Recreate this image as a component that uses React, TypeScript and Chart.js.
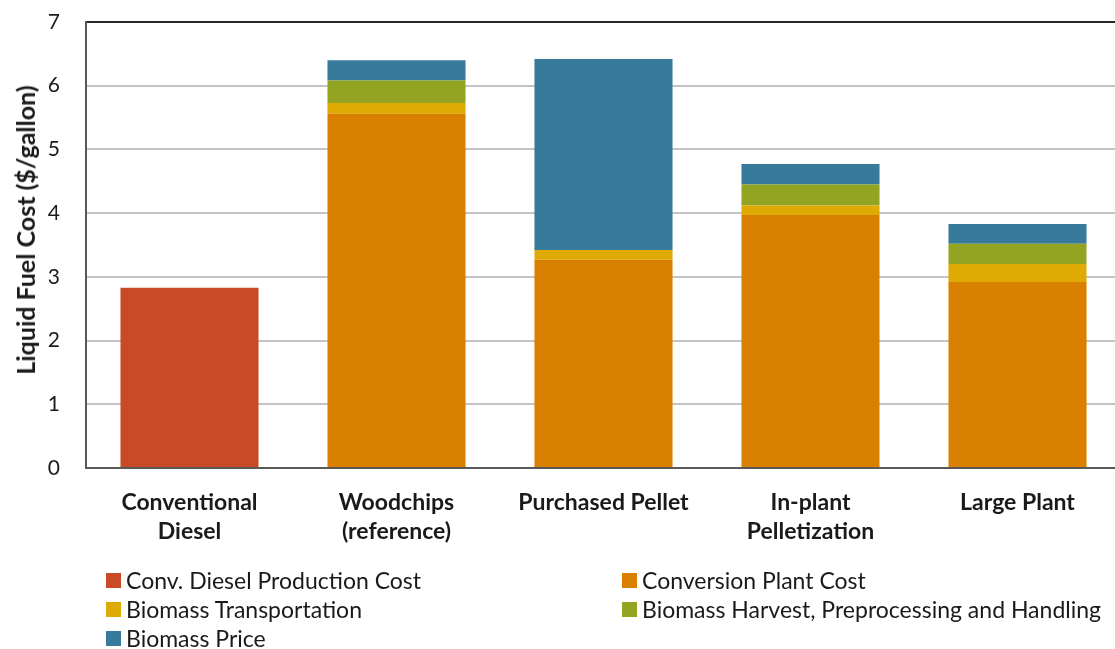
import React, { useEffect, useRef } from "react";
import { Chart, registerables } from "chart.js";

Chart.register(...registerables);

const categories: string[][] = [
  ["Conventional", "Diesel"],
  ["Woodchips", "(reference)"],
  ["Purchased Pellet"],
  ["In-plant", "Pelletization"],
  ["Large Plant"],
];

const dieselCost = [2.83, null, null, null, null];
const conversionCost = [null, 5.56, 3.27, 3.97, 2.92];
const transportCost = [null, 0.17, 0.15, 0.15, 0.28];
const harvestCost = [null, 0.35, null, 0.33, 0.32];
const biomassPrice = [null, 0.32, 3.0, 0.32, 0.31];

const yTicks = [0, 1, 2, 3, 4, 5, 6, 7];
const yTitle = "Liquid Fuel Cost ($/gallon)";

const seriesNames = [
  "Conv. Diesel Production Cost",
  "Conversion Plant Cost",
  "Biomass Transportation",
  "Biomass Harvest, Preprocessing and Handling",
  "Biomass Price",
];
const seriesColors = ["#C84B25", "#D98000", "#E0AA04", "#93A423", "#387A9C"];

const FONT = "Lato, 'Open Sans', sans-serif";

export default function App() {
  const canvasRef = useRef<HTMLCanvasElement | null>(null);

  useEffect(() => {
    const ctx = canvasRef.current;
    if (!ctx) return;
    const values = [dieselCost, conversionCost, transportCost, harvestCost, biomassPrice];
    const chart = new Chart(ctx, {
      type: "bar",
      data: {
        labels: categories,
        datasets: values.map((data, i) => ({
          label: seriesNames[i],
          data,
          backgroundColor: seriesColors[i],
          borderWidth: 0,
          categoryPercentage: 1,
          barPercentage: 0.667,
        })),
      },
      options: {
        animation: false,
        responsive: false,
        maintainAspectRatio: false,
        layout: { padding: { top: 22, right: 4, left: 0, bottom: 0 } },
        plugins: {
          legend: { display: false },
          tooltip: { enabled: false },
        },
        scales: {
          x: {
            stacked: true,
            grid: { display: false, drawTicks: false },
            border: { display: true, color: "#595959", width: 2 },
            ticks: {
              color: "#1a1a1a",
              padding: 21,
              maxRotation: 0,
              autoSkip: false,
              font: { family: FONT, size: 23, weight: "bold", lineHeight: 1.22 },
            },
            afterFit: (scale: any) => {
              scale.height = 181;
              scale.paddingLeft = 0;
              scale.paddingRight = 0;
              scale.paddingTop = 0;
            },
          },
          y: {
            stacked: true,
            min: 0,
            max: 7,
            afterBuildTicks: (scale: any) => {
              scale.ticks = yTicks.map((v) => ({ value: v }));
            },
            grid: {
              drawTicks: false,
              color: (c: any) => (c.tick && c.tick.value === 7 ? "#262626" : "#C4C4C4"),
              lineWidth: 2,
            },
            border: { display: true, color: "#595959", width: 2 },
            ticks: {
              color: "#1a1a1a",
              padding: 26,
              font: { family: FONT, size: 21 },
            },
            title: { display: false },
            afterFit: (scale: any) => {
              scale.width = 86;
              scale.paddingTop = 0;
              scale.paddingBottom = 0;
            },
          },
        },
      },
    });
    return () => chart.destroy();
  }, []);

  const legendItem = (i: number, left: number, top: number) => (
    <div
      key={i}
      style={{
        position: "absolute",
        left,
        top,
        display: "flex",
        alignItems: "center",
        fontFamily: FONT,
        fontSize: 23,
        color: "#1a1a1a",
        whiteSpace: "nowrap",
        lineHeight: "28px",
      }}
    >
      <span
        style={{
          display: "inline-block",
          width: 15,
          height: 15,
          background: seriesColors[i],
          marginRight: 5,
        }}
      />
      {seriesNames[i]}
    </div>
  );

  return (
    <div
      style={{
        position: "fixed",
        left: 0,
        top: 0,
        width: 1115,
        height: 649,
        overflow: "hidden",
        background: "#fff",
      }}
    >
      <canvas ref={canvasRef} width={1125} height={649} style={{ width: 1125, height: 649, display: "block" }} />
      {/* rotated y-axis title, centred on the upper part of the axis */}
      <div
        style={{
          position: "absolute",
          left: 25,
          top: 230,
          transform: "translate(-50%, -50%) rotate(-90deg)",
          fontFamily: FONT,
          fontWeight: "bold",
          fontSize: 25,
          color: "#1a1a1a",
          whiteSpace: "nowrap",
          lineHeight: "30px",
        }}
      >
        {yTitle}
      </div>
      {legendItem(0, 106, 566)}
      {legendItem(1, 622, 566)}
      {legendItem(2, 106, 595)}
      {legendItem(3, 622, 595)}
      {legendItem(4, 106, 624)}
    </div>
  );
}
